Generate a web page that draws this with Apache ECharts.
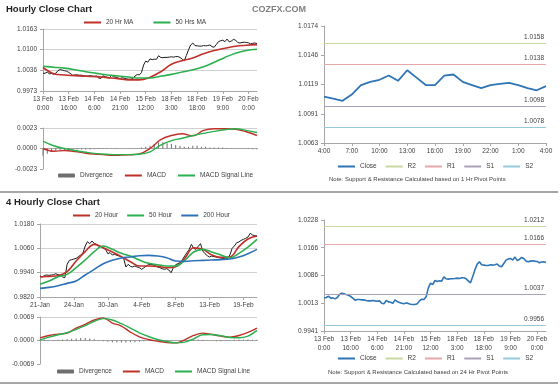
<!DOCTYPE html>
<html><head><meta charset="utf-8">
<script src="https://cdn.jsdelivr.net/npm/echarts@6/dist/echarts.min.js"></script>
<style>html,body{margin:0;padding:0;background:#fff}#c{width:560px;height:385px}</style>
</head><body><div id="c"></div>
<script>
// ---------- tick labels ----------
const hourlyTicks = ['13 Feb\n0:00','13 Feb\n16:00','14 Feb\n6:00','14 Feb\n21:00','15 Feb\n12:00','18 Feb\n3:00','18 Feb\n18:00','19 Feb\n9:00','20 Feb\n0:00'];
const fourHourTicks = ['21-Jan','24-Jan','30-Jan','4-Feb','8-Feb','13-Feb','19-Feb'];
const pivotTicks = ['4:00','7:00','10:00','13:00','16:00','19:00','22:00','1:00','4:00'];
const yTicksHourly = ['0.9973','1.0036','1.0100','1.0163'];
const yTicksHourlyMacd = ['-0.0023','0.0000','0.0023'];
const yTicksPivot1h = ['1.0063','1.0091','1.0119','1.0146','1.0174'];
const yTicks4h = ['0.9820','0.9940','1.0060','1.0180'];
const yTicks4hMacd = ['-0.0069','0.0000','0.0069'];
const yTicksPivot24h = ['0.9941','1.0013','1.0086','1.0166','1.0228'];

// ---------- hourly close (one value per hour) ----------
const hourlyClose = [1.00267,1.00276,1.00310,1.00258,1.00267,1.00241,1.00276,1.00353,1.00388,1.00371,
 1.00353,1.00336,1.00302,1.00258,1.00207,1.00224,1.00224,1.00215,1.00215,1.00198,
 1.00189,1.00189,1.00198,1.00189,1.00181,1.00189,1.00129,1.00112,1.00198,1.00163,
 1.00155,1.00129,1.00215,1.00172,1.00146,1.00129,1.00112,1.00137,1.00120,1.00103,
 1.00094,1.00094,1.00112,1.00189,1.00232,1.00224,1.00293,1.00526,1.00647,1.00613,
 1.00716,1.00690,1.00708,1.00699,1.00811,1.00760,1.00751,1.00760,1.00760,1.00768,
 1.00777,1.00768,1.00785,1.00785,1.00760,1.00708,1.00656,1.00820,1.00993,1.01140,
 1.01200,1.01122,1.01114,1.01105,1.01105,1.01122,1.01114,1.01122,1.01140,1.01088,
 1.01071,1.01157,1.01243,1.01269,1.01287,1.01243,1.01321,1.01235,1.01261,1.01313,
 1.01287,1.01217,1.01200,1.01217,1.01226,1.01217,1.01209,1.01174,1.01192,1.01200,
 1.01183];
// moving averages sampled every 5 hours
const hourlyMA20 = [1.0045,1.0026,1.0022,1.0020,1.0018,1.0017,1.0014,1.0011,1.0007,1.0007,1.0015,1.0032,1.0055,1.0066,1.0074,1.0087,1.0097,1.0104,1.0110,1.0113,1.0115];
const hourlyMA50 = [1.0049,1.0046,1.0043,1.0038,1.0032,1.0027,1.0022,1.0019,1.0016,1.0013,1.0013,1.0018,1.0024,1.0031,1.0038,1.0047,1.0061,1.0076,1.0089,1.0097,1.0101];
const hourlyMACD = [0,-0.00031,-0.00023,-0.00034,-0.00054,-0.00065,-0.00073,-0.00075,-0.00071,-0.00061,0,0.001,0.00146,0.00165,0.00142,0.00203,0.00222,0.00222,0.00216,0.00188,0.00146];
const hourlySignal = [0.00084,0.00031,0,-0.00023,-0.00042,-0.00057,-0.00065,-0.00069,-0.00069,-0.00065,-0.00038,0.00038,0.00088,0.00115,0.00146,0.00169,0.00192,0.00211,0.00222,0.00203,0.0018];
// divergence sampled every 2 hours
const hourlyDivergence = [-0.0008,-0.0006,-0.0004,-0.0003,-0.0002,-0.0002,-0.0001,-0.0001,-0.0001,-0.0001,
 -0.0001,-0.0001,-0.00008,-0.00006,-0.00005,-0.00004,-0.00003,-0.00002,0,0,
 0,0.00002,0.00004,0.0001,0.0002,0.0003,0.0005,0.0007,0.0007,0.0006,
 0.0005,0.0004,0.0003,0.0002,0.0002,0.0003,0.0003,0.0002,0.0002,0.0001,
 0.0001,0.0001,0.0001,0.00005,0.00004,0.00002,-0.00002,-0.00004,-0.00006,-0.00008,-0.0001];

// ---------- 4 hourly close ----------
const fourHourClose = [0.99235,0.99186,0.99268,0.99284,0.99268,0.99284,0.99301,0.99350,0.99301,0.99284,
 0.99186,0.99153,0.99810,1.00008,1.00041,1.00073,1.00106,1.00189,1.00271,1.00369,
 1.00715,1.00928,1.00830,1.00961,1.00846,1.00797,1.00715,1.00682,1.00600,1.00550,
 1.00336,1.00386,1.00271,1.00304,1.00254,1.00221,1.00172,1.00106,0.99679,0.99810,
 0.99712,0.99679,0.99728,0.99679,0.99646,0.99564,0.99646,0.99728,0.99794,0.99810,
 0.99794,0.99745,0.99679,0.99646,0.99597,0.99564,0.99597,0.99531,0.99399,0.99646,
 0.99794,0.99843,0.99893,1.00041,1.00221,1.00386,1.00550,1.00797,1.00600,1.00550,
 1.00698,1.00830,1.00468,1.00336,1.00238,1.00172,1.00221,1.00189,1.00172,1.00139,
 1.00123,1.00106,1.00073,1.00106,1.00271,1.00600,1.00715,1.00879,1.00912,1.00994,
 1.01043,1.01093,1.01158,1.01339,1.01257,1.01224,1.01208];
// sampled every 4 bars
const fourHourMA20 = [0.99186,0.99219,0.99252,0.99449,0.99975,1.00435,1.00797,1.00632,1.00419,1.00189,0.99942,0.99728,0.99728,0.99712,0.99646,0.99695,1.00106,1.00632,1.00550,1.00271,1.00156,1.00172,1.00682,1.01060,1.01208];
const fourHourMA50 = [0.98824,0.98988,0.99202,0.99317,0.99646,1.00024,1.00435,1.00715,1.00550,1.00353,1.00221,1.00024,0.99860,0.99794,0.99728,0.99728,1.00008,1.00419,1.00550,1.00419,1.00271,1.00139,1.00353,1.00665,1.01043];
const fourHourMA200 = [0.98627,0.98676,0.98758,0.98873,0.98988,0.99284,0.99564,0.99843,1.00008,1.00123,1.00172,1.00238,1.00254,1.00221,1.00139,0.99975,0.99958,0.99991,1.00008,1.00024,1.00041,1.00073,1.00172,1.00336,1.00550];
const fourHourMACD = [0.00079,0.00148,0.00187,0.00217,0.00365,0.00473,0.00601,0.0066,0.00513,0.00424,0.00247,0.00108,0.0003,-0.0002,-0.00059,-0.00069,0.0002,0.00148,0.00217,0.00177,0.00128,0.00099,0.00148,0.00237,0.00365];
const fourHourSignal = [0.0002,0.00099,0.00168,0.00227,0.00325,0.00434,0.00562,0.00641,0.00601,0.00493,0.00365,0.00227,0.00118,0.0003,-0.0003,-0.00069,-0.00049,0.00049,0.00168,0.00177,0.00138,0.00089,0.00079,0.00128,0.00296];
// sampled every 2 bars
const fourHourDivergence = [0.0002,0.0002,0.0001,0.0001,0.0002,0.0003,0.0004,0.0005,0.0006,0.0007,
 0.0007,0.0006,0.0004,0.0001,-0.0002,-0.0004,-0.0005,-0.0006,-0.0006,-0.0006,
 -0.0005,-0.0005,-0.0004,-0.0002,-0.0001,-0.0001,-0.0002,-0.0002,-0.0002,-0.0001,
 -0.0001,0,0.0001,0.0002,0.0003,0.0003,0.0002,0.0001,-0.0001,-0.0002,
 -0.0002,-0.0001,0.0001,0.0002,0.0003,0.0003,0.0003,0.0002,0.0002];

// ---------- pivot charts ----------
const pivotClose1h = [1.0107,1.0105,1.0103,1.0109,1.0118,1.0121,1.0123,1.0127,1.0122,1.0132,1.0125,1.0118,1.0118,1.0127,1.0128,1.0121,1.0118,1.0115,1.0118,1.0119,1.0120,1.0118,1.0115,1.0113,1.0117];
const pivotNames = ['R2','R1','S1','S2'];
const pivots1h = [1.0158,1.0138,1.0098,1.0078];
const pivots24h = [1.0212,1.0166,1.0037,0.9956];

// ---------- styling ----------
const FONT = '"Liberation Sans", Arial, sans-serif';
const LBL = '#404040';
const AXC = '#a6a6a6';
const RED = '#c0302a', GREEN = '#2bb04f', BLUE = '#2c72b8', CLOSEBLUE = '#2e75b6', GRAY = '#6e6e6e';
const pivotColors = ['#c6d89e','#e4a9a7','#a9a1b9','#95c8dd'];

const pts = (arr, step) => arr.map((v, i) => [i * step, v]);
const tickPos = (labels, k) => labels.map((_, i) => i * k);

function xAxis(grid, max, labels, k, show) {
  const cv = labels ? tickPos(labels, k) : undefined;
  return {
    type: 'value', gridIndex: grid, min: 0, max: max,
    axisLine: { show: true, onZero: true, lineStyle: { color: AXC, width: 1 } },
    axisTick: show ? { show: true, customValues: cv, length: 3, lineStyle: { color: AXC } } : { show: false },
    axisLabel: show ? { show: true, customValues: cv, formatter: v => labels[Math.round(v / k)] || '',
      fontSize: 6.5, lineHeight: 9, color: LBL, margin: 4, fontFamily: FONT } : { show: false },
    splitLine: { show: false }
  };
}
function yAxis(grid, min, max, interval, labels, split, noMinLine) {
  return {
    type: 'value', gridIndex: grid, min: min, max: max, interval: interval,
    axisLine: { show: true, lineStyle: { color: AXC } },
    axisTick: { show: true, length: 3, lineStyle: { color: AXC } },
    axisLabel: { formatter: (v, i) => labels[i] || '', fontSize: 6.5, color: LBL, margin: 6, fontFamily: FONT },
    splitLine: { show: split, showMinLine: !noMinLine, lineStyle: { color: '#d0d0d0', width: 1 } }
  };
}
function line(name, x, data, color, width, smooth, z) {
  return { name, type: 'line', xAxisIndex: x, yAxisIndex: x, data, symbol: 'none', showSymbol: false,
    smooth: smooth || false, lineStyle: { color, width }, itemStyle: { color }, z: z || 2, silent: true };
}
function pivotSeries(x, values) {
  return pivotNames.map((n, i) => ({
    name: n, type: 'line', xAxisIndex: x, yAxisIndex: x, data: [], symbol: 'none',
    lineStyle: { color: pivotColors[i], width: 1 }, itemStyle: { color: pivotColors[i] },
    markLine: { silent: true, precision: 4, symbol: ['none', 'none'], animation: false,
      lineStyle: { color: pivotColors[i], width: 1, type: 'solid' },
      emphasis: { disabled: true },
      label: { position: 'insideEndTop', formatter: p => Number(p.value).toFixed(4), fontSize: 6.5, fontWeight: 'normal', color: LBL, distance: [2, 2], fontFamily: FONT },
      data: [{ yAxis: values[i] }] }
  }));
}
function legend(left, top, gap, data) {
  return { left, top, padding: 0, itemWidth: 17, itemHeight: 4, itemGap: gap, selectedMode: false,
    itemStyle: { color: 'rgba(0,0,0,0)', borderWidth: 0 },
    textStyle: { fontSize: 6.5, color: LBL, fontFamily: FONT },
    data: data.map(n => n === 'Divergence' ? { name: n, itemStyle: { color: GRAY, borderWidth: 0 } } : { name: n }) };
}
const titleStyle = { fontSize: 9.5, fontWeight: 'bold', color: '#1f1f1f', fontFamily: FONT };
const noteStyle = { fontSize: 6, color: LBL, fontWeight: 'normal', fontFamily: FONT };

const option = {
  animation: false,
  textStyle: { fontFamily: FONT },
  title: [
    { text: 'Hourly Close Chart', left: 6, top: 4, padding: 0, textStyle: titleStyle },
    { text: 'COZFX.COM', left: 252, top: 5, padding: 0, textStyle: { fontSize: 9, color: '#7f7f7f', fontWeight: 'bold', fontFamily: FONT } },
    { text: '4 Hourly Close Chart', left: 6, top: 197, padding: 0, textStyle: titleStyle },
    { text: 'Note: Support & Resistance Calculated based on 1 Hr Pivot Points', left: 329, top: 176, padding: 0, textStyle: noteStyle },
    { text: 'Note: Support & Resistance Calculated based on 24 Hr Pivot Points', left: 328, top: 369, padding: 0, textStyle: noteStyle }
  ],
  graphic: [
    { type: 'line', shape: { x1: 0, y1: 192, x2: 558, y2: 192 }, style: { stroke: '#a6a6a6', lineWidth: 2 }, silent: true },
    { type: 'line', shape: { x1: 0, y1: 383, x2: 558, y2: 383 }, style: { stroke: '#a6a6a6', lineWidth: 2 }, silent: true }
  ],
  legend: [
    legend(83, 19, 19, ['20 Hr MA', '50 Hrs MA']),
    legend(58, 172, 11, ['Divergence', 'MACD', 'MACD Signal Line']),
    legend(337, 163, 8, ['Close', 'R2', 'R1', 'S1', 'S2']),
    legend(72, 212, 8, ['20 Hour', '50 Hour', '200 Hour']),
    legend(57, 368, 10, ['Divergence', 'MACD', 'MACD Signal Line']),
    legend(337, 355, 8, ['Close', 'R2', 'R1', 'S1', 'S2'])
  ],
  grid: [
    { left: 43, top: 29, width: 214, height: 62 },
    { left: 43, top: 128, width: 214, height: 41 },
    { left: 324, top: 26, width: 222, height: 117 },
    { left: 40, top: 224, width: 217, height: 73 },
    { left: 40, top: 317, width: 217, height: 47 },
    { left: 324, top: 220, width: 222, height: 111 }
  ],
  xAxis: [
    xAxis(0, hourlyClose.length - 1, hourlyTicks, 12, true),
    xAxis(1, hourlyClose.length - 1, null, 1, false),
    xAxis(2, pivotClose1h.length - 1, pivotTicks, 3, true),
    xAxis(3, fourHourClose.length - 1, fourHourTicks, 15, true),
    xAxis(4, fourHourClose.length - 1, null, 1, false),
    xAxis(5, hourlyClose.length - 1, hourlyTicks, 12, true)
  ],
  yAxis: [
    yAxis(0, 0.9973, 1.01629999, 0.00633333, yTicksHourly, true, false),
    yAxis(1, -0.0023, 0.0023, 0.0023, yTicksHourlyMacd, true, true),
    yAxis(2, 1.0063, 1.0174, 0.002775, yTicksPivot1h, false, false),
    yAxis(3, 0.982, 1.018, 0.012, yTicks4h, true, false),
    yAxis(4, -0.0069, 0.0069, 0.0069, yTicks4hMacd, true, true),
    yAxis(5, 0.9941, 1.0228, 0.007175, yTicksPivot24h, false, false)
  ],
  series: [
    // hourly price
    line('Hourly Close', 0, pts(hourlyClose, 1), '#1a1a1a', 1, false, 2),
    line('20 Hr MA', 0, pts(hourlyMA20, 5), RED, 1.6, 0.4, 3),
    line('50 Hrs MA', 0, pts(hourlyMA50, 5), GREEN, 1.6, 0.4, 3),
    // hourly MACD
    { name: 'Divergence', type: 'bar', xAxisIndex: 1, yAxisIndex: 1, data: pts(hourlyDivergence, 2), barWidth: 1, itemStyle: { color: GRAY }, silent: true },
    line('MACD', 1, pts(hourlyMACD, 5), RED, 1.4, 0.4, 3),
    line('MACD Signal Line', 1, pts(hourlySignal, 5), GREEN, 1.4, 0.4, 3),
    // 1h pivot
    ...pivotSeries(2, pivots1h),
    line('Close', 2, pts(pivotClose1h, 1), CLOSEBLUE, 1.8, false, 4),
    // 4 hourly price
    line('4 Hourly Close', 3, pts(fourHourClose, 1), '#1a1a1a', 1, false, 2),
    line('20 Hour', 3, pts(fourHourMA20, 4), RED, 1.6, 0.4, 3),
    line('50 Hour', 3, pts(fourHourMA50, 4), GREEN, 1.6, 0.4, 3),
    line('200 Hour', 3, pts(fourHourMA200, 4), BLUE, 1.6, 0.4, 3),
    // 4 hourly MACD
    { name: 'Divergence', type: 'bar', xAxisIndex: 4, yAxisIndex: 4, data: pts(fourHourDivergence, 2), barWidth: 1, itemStyle: { color: GRAY }, silent: true },
    line('MACD', 4, pts(fourHourMACD, 4), RED, 1.4, 0.4, 3),
    line('MACD Signal Line', 4, pts(fourHourSignal, 4), GREEN, 1.4, 0.4, 3),
    // 24h pivot
    ...pivotSeries(5, pivots24h),
    line('Close', 5, pts(hourlyClose, 1), CLOSEBLUE, 1.6, false, 4)
  ]
};
const chart = echarts.init(document.getElementById('c'), null, { renderer: 'canvas' });
chart.setOption(option);
</script>
</body></html>
